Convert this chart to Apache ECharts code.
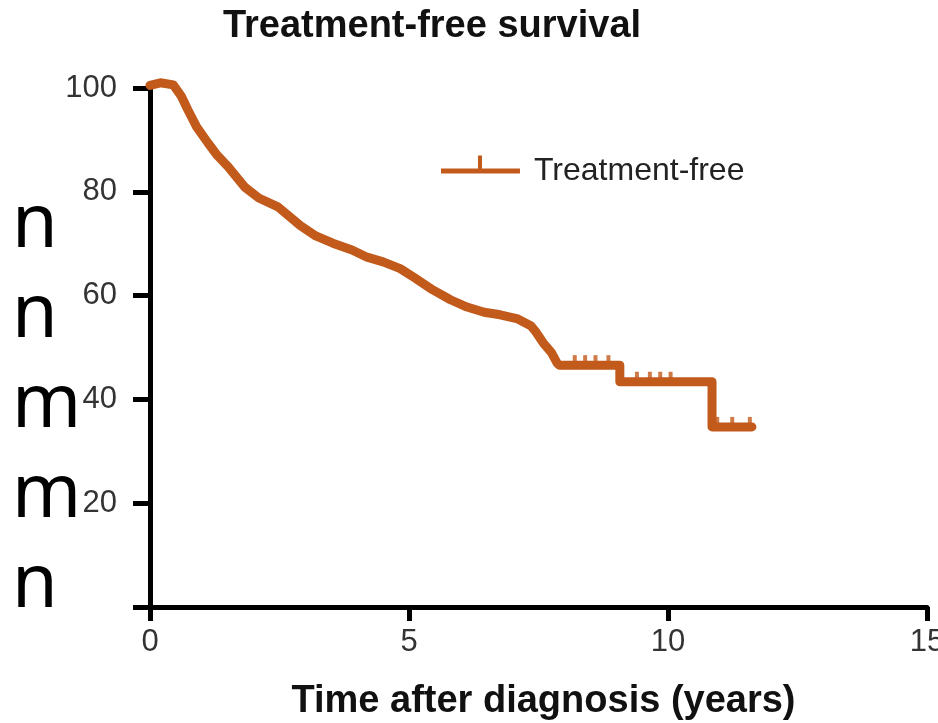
<!DOCTYPE html>
<html>
<head>
<meta charset="utf-8">
<script src="https://cdn.jsdelivr.net/npm/echarts@6/dist/echarts.min.js"></script>
<style>
  html, body { margin: 0; padding: 0; background: #fff; }
  #chart { width: 938px; height: 723px; }
</style>
</head>
<body>
<div id="chart"></div>
<script>
// Curva de supervivencia libre de tratamiento (años, %)
const years = [0, 0.2, 0.45, 0.6, 0.73, 0.9, 1.12, 1.3, 1.51, 1.83, 2.1, 2.47, 2.9, 3.2, 3.53, 3.9,
  4.19, 4.5, 4.83, 5.1, 5.46, 5.8, 6.12, 6.45, 6.76, 7.1, 7.35, 7.45, 7.59, 7.75, 7.86, 7.9,
  9.07, 9.07, 10.85, 10.85, 11.62];
const survival = [100.5, 101, 100.6, 98.5, 95.8, 92.5, 89.4, 87, 84.8, 80.9, 78.8, 77.1, 73.5, 71.5, 70.1, 68.8,
  67.4, 66.5, 65.2, 63.5, 61.1, 59.2, 57.8, 56.8, 56.3, 55.5, 54.2, 53, 50.9, 49, 47, 46.6,
  46.6, 43.4, 43.4, 34.7, 34.7];

// Marcas de censura
const censorYears = [8.2, 8.4, 8.6, 8.85, 9.4, 9.65, 9.85, 10.05, 10.95, 11.24, 11.58];
const censorValues = [46.6, 46.6, 46.6, 46.6, 43.4, 43.4, 43.4, 43.4, 34.7, 34.7, 34.7];

const xTicks = [0, 5, 10, 15];
const yTicks = [0, 20, 40, 60, 80, 100];

const colorCurva = '#c25a1c';
const fuente = 'Liberation Sans, Arial, sans-serif';

const chart = echarts.init(document.getElementById('chart'));

chart.setOption({
  backgroundColor: '#ffffff',
  animation: false,
  title: {
    text: 'Treatment-free survival',
    left: 427,
    textAlign: 'center',
    top: 3,
    textStyle: { fontFamily: fuente, fontSize: 38, fontWeight: 'bold', color: '#111' }
  },
  legend: {
    left: 436,
    top: 150,
    data: [{
      name: 'Treatment-free',
      icon: 'path://M0,13h79v5h-79z M37,0h4v13h-4z M0,31h0.01v0.01h-0.01z'
    }],
    itemWidth: 79,
    itemHeight: 31,
    itemStyle: { color: colorCurva, borderWidth: 0 },
    textStyle: { fontFamily: fuente, fontSize: 32, color: '#222', padding: [0, 0, 0, 9] }
  },
  graphic: [{
    type: 'text',
    left: 12,
    top: 181,
    style: {
      text: 'n\nn\nm\nm\nn',
      fontFamily: 'Noto Sans',
      fontSize: 74,
      lineHeight: 90,
      fill: '#000'
    }
  }],
  grid: { left: 150, right: 11, top: 88, bottom: 116, outerBoundsMode: 'none', containLabel: false },
  xAxis: {
    type: 'value',
    min: xTicks[0],
    max: xTicks[xTicks.length - 1],
    interval: 5,
    name: 'Time after diagnosis (years)',
    nameLocation: 'middle',
    nameGap: 76,
    nameTextStyle: {
      fontFamily: fuente, fontSize: 38, fontWeight: 'bold', color: '#111',
      padding: [0, 0, 0, 10]
    },
    axisLine: { lineStyle: { color: '#000', width: 5 } },
    axisTick: { length: 14, lineStyle: { color: '#000', width: 5 } },
    axisLabel: { margin: 20, fontFamily: fuente, fontSize: 31, color: '#333' },
    splitLine: { show: false }
  },
  yAxis: {
    type: 'value',
    min: yTicks[0],
    max: yTicks[yTicks.length - 1],
    interval: 20,
    axisLine: { show: true, lineStyle: { color: '#000', width: 5 } },
    axisTick: { show: true, length: 17, lineStyle: { color: '#000', width: 5 } },
    axisLabel: {
      margin: 33,
      fontFamily: fuente,
      fontSize: 31,
      color: '#333',
      formatter: v => (v === 0 ? '' : v)
    },
    splitLine: { show: false }
  },
  series: [
    {
      name: 'Treatment-free',
      type: 'line',
      data: years.map((x, i) => [x, survival[i]]),
      showSymbol: false,
      clip: false,
      color: colorCurva,
      lineStyle: { color: colorCurva, width: 9, join: 'round', cap: 'round' }
    },
    {
      name: 'Treatment-free',
      type: 'scatter',
      data: censorYears.map((x, i) => [x, censorValues[i]]),
      symbol: 'rect',
      symbolSize: [4, 10],
      symbolOffset: [0, -5],
      itemStyle: { color: colorCurva }
    }
  ]
});
</script>
</body>
</html>
